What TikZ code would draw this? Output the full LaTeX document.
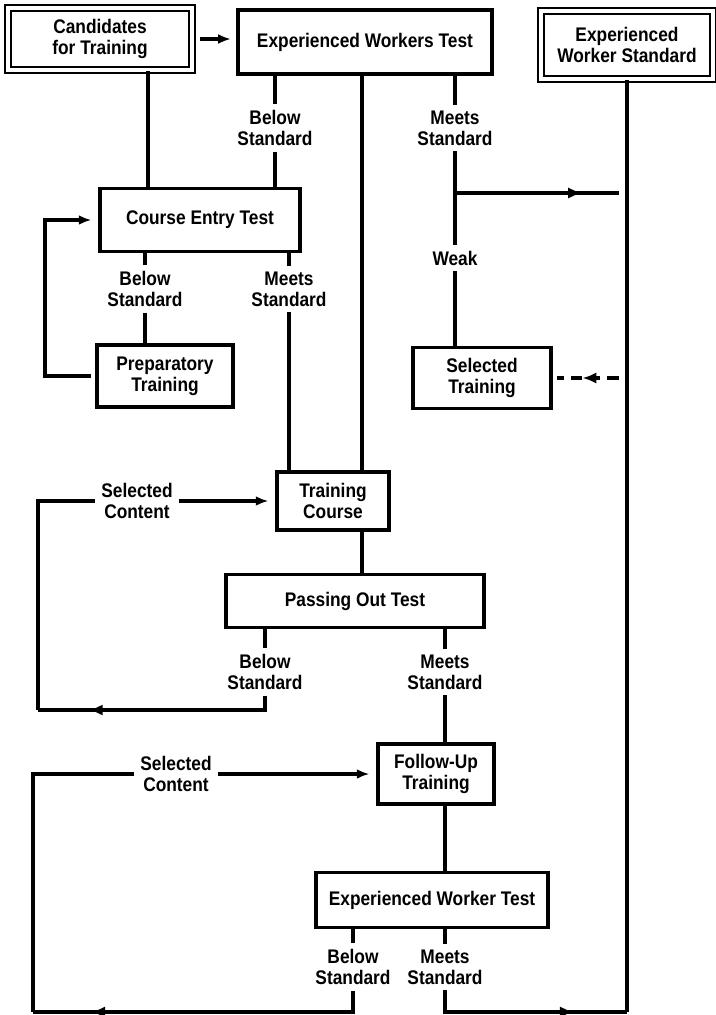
\documentclass[tikz,border=0pt]{standalone}
\usepackage{fontspec}
\usepackage{tikz}
\usetikzlibrary{arrows.meta, positioning, decorations.markings}
\newfontfamily\flowfont[FakeStretch=0.88]{Liberation Sans}
\def\pxu{0.025cm}

\begin{document}
\begin{tikzpicture}[x=0.025cm, y=-0.025cm,
    txt/.style={font=\flowfont\bfseries\fontsize{14}{15}\selectfont, align=center, inner sep=1pt},
    lbl/.style={txt, inner sep=4pt},
    box/.style 2 args={txt, draw, line width=2.2pt, minimum width=#1*\pxu, minimum height=#2*\pxu},
    dbox/.style 2 args={box={#1}{#2}, double, double distance=2.5pt, line width=1.5pt},
    flow/.style={line width=2.4pt},
    arr/.style={flow, -{Latex[length=9pt,width=7pt]}},
    midtip/.style={postaction={decorate}, decoration={markings, mark=at position #1 with {\arrow{Latex[length=10pt,width=8pt]}}}}]
    \useasboundingbox (0,0) rectangle (716,1015);

    % Top row
    \node[dbox={184}{62}] (cand) at (100,39) {Candidates\\for Training};
    \node[box={254}{64}] (ewt) at (365,42) {Experienced Workers Test};
    \node[dbox={172}{68}] (ews) at (627,45) {Experienced\\Worker Standard};

    % Entry stage
    \node[box={200}{63}] (entry) at (200,220) {Course Entry Test};
    \node[box={136}{62}] (prep) at (165,376) {Preparatory\\Training};
    \node[box={138}{61}] (seltr) at (482,378) {Selected\\Training};

    % Course stage
    \node[box={112}{58}] (course) at (333,501) {Training\\Course};
    \node[box={258}{53}] (passout) at (355,601) {Passing Out Test};
    \node[box={116}{60}] (followup) at (436,774) {Follow-Up\\Training};
    \node[box={232}{55}] (ewtb) at (432,900) {Experienced Worker Test};

    % Line labels
    \node[lbl] (below1) at (275,128) {Below\\Standard};
    \node[lbl] (meets1) at (455,128) {Meets\\Standard};
    \node[lbl] (weak) at (455,258) {Weak};
    \node[lbl] (below2) at (145,289) {Below\\Standard};
    \node[lbl] (meets2) at (289,289) {Meets\\Standard};
    \node[lbl] (sel1) at (137,501) {Selected\\Content};
    \node[lbl] (below3) at (265,672) {Below\\Standard};
    \node[lbl] (meets3) at (445,672) {Meets\\Standard};
    \node[lbl] (sel2) at (176,774) {Selected\\Content};
    \node[lbl] (below4) at (353,967) {Below\\Standard};
    \node[lbl] (meets4) at (445,967) {Meets\\Standard};

    % Bends of the lines
    \coordinate (candout) at (148,0);
    \coordinate (mainx) at (362,0);
    \coordinate (loopa) at (45,0);
    \coordinate (loopb) at (38,710);
    \coordinate (loopc) at (33,1012);
    \coordinate (branch) at (455,193);

    % Top connectors
    \draw[arr, shorten <=5pt, shorten >=4pt] (cand.east) -- (cand.east -| ewt.west);
    \draw[flow] (cand.south -| candout) -- (entry.north -| candout);
    \draw[flow] (ewt.south -| below1) -- (below1.north);
    \draw[flow] (below1.south) -- (below1 |- entry.north);
    \draw[flow] (ewt.south -| mainx) -- (course.north -| mainx);
    \draw[flow] (ewt.south -| meets1) -- (meets1.north);
    \draw[flow] (meets1.south) -- (weak.north);
    \draw[flow] (weak.south) -- (weak |- seltr.north);
    \draw[flow] (ews.south) -- (ews.south |- loopc);
    \draw[flow, midtip=0.74, shorten >=6pt] (branch) -- (branch -| ews.south);
    \draw[flow, dash pattern=on 8pt off 5pt, midtip=0.6, shorten <=6pt, shorten >=3pt] (seltr.east -| ews.south) -- (seltr.east);

    % Entry test loop
    \draw[flow] (entry.south -| below2) -- (below2.north);
    \draw[flow] (below2.south) -- (below2 |- prep.north);
    \draw[arr, shorten <=3pt, shorten >=5pt] (prep.west) -| (loopa |- entry.west) -- (entry.west);
    \draw[flow] (entry.south -| meets2) -- (meets2.north);
    \draw[flow] (meets2.south) -- (meets2 |- course.north);

    % Passing out loop
    \draw[flow] (course.south -| mainx) -- (passout.north -| mainx);
    \draw[flow] (passout.south -| below3) -- (below3.north);
    \draw[flow, midtip=0.79] (below3.south) |- (loopb);
    \draw[flow] (loopb) |- (sel1.west);
    \draw[arr, shorten >=5pt] (sel1.east) -- (course.west);
    \draw[flow] (passout.south -| meets3) -- (meets3.north);
    \draw[flow] (meets3.south) -- (meets3 |- followup.north);

    % Follow-up loop
    \draw[flow] (followup.south -| meets3) -- (ewtb.north -| meets3);
    \draw[flow] (ewtb.south -| below4) -- (below4.north);
    \draw[flow, midtip=0.83] (below4.south) |- (loopc);
    \draw[flow] (loopc) |- (sel2.west);
    \draw[arr, shorten >=5pt] (sel2.east) -- (followup.west);
    \draw[flow] (ewtb.south -| meets4) -- (meets4.north);
    \draw[flow, midtip=0.74] (meets4.south) |- (ews.south |- loopc);
\end{tikzpicture}
\end{document}
